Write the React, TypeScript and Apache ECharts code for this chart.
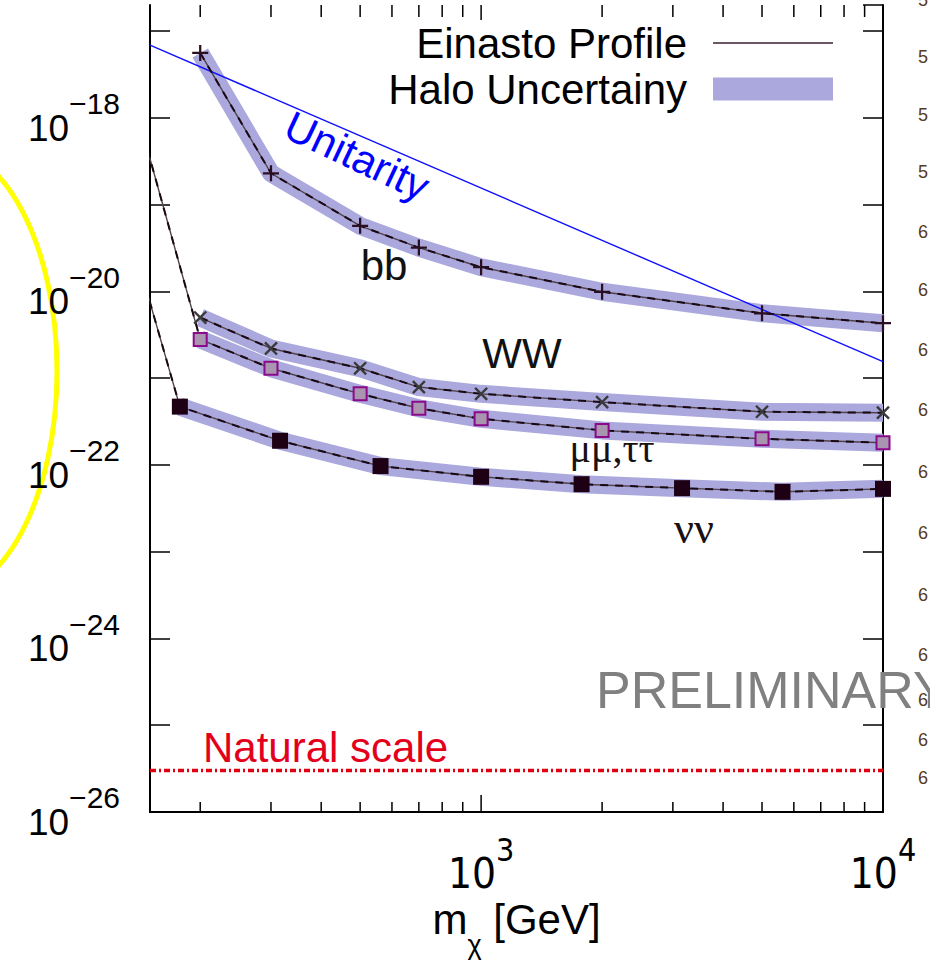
import React, { useEffect, useRef } from 'react';
import * as echarts from 'echarts';

// ---------- data ----------
const X_MIN = 150;
const X_MAX = 10000;
const Y_MIN = 9.9999e-27;
const Y_MAX = 2e-17;

const massBB = [200, 300, 500, 700, 1000, 2000, 5000, 10000];
const sigmaBB = [5.6e-18, 2.3e-19, 5.7e-20, 3.2e-20, 1.9e-20, 9.9e-21, 5.6e-21, 4.3e-21];

const massWW = [200, 300, 500, 700, 1000, 2000, 5000, 10000];
const sigmaWW = [5.0e-21, 2.2e-21, 1.3e-21, 7.9e-22, 6.6e-22, 5.3e-22, 4.1e-22, 4.0e-22];

const massMuTau = [100, 200, 300, 500, 700, 1000, 2000, 5000, 10000];
const sigmaMuTau = [2.9e-16, 2.8e-21, 1.3e-21, 6.6e-22, 4.5e-22, 3.4e-22, 2.5e-22, 2.0e-22, 1.8e-22];

const massNuNu = [100, 178, 316, 562, 1000, 1778, 3162, 5623, 10000];
const sigmaNuNu = [5.2e-18, 4.7e-22, 1.9e-22, 9.7e-23, 7.3e-23, 6.0e-23, 5.4e-23, 4.9e-23, 5.3e-23];

const unitarityMass = [150, 10000];
const unitaritySigma = [6.9e-18, 1.55e-21];

const naturalScaleMass = [150, 10000];
const naturalScaleSigma = [3e-26, 3e-26];

const xMajorTicks = [1000, 10000];
const xMinorTicks = [200, 300, 400, 500, 600, 700, 800, 900, 2000, 3000, 4000, 5000, 6000, 7000, 8000, 9000];

const legendNames = ['Einasto Profile', 'Halo Uncertainy'];

// fragments of the neighbouring slide column, cut by the right edge
const rightDigits = ['5', '5', '5', '5', '6', '6', '6', '6', '6', '6', '6', '6', '6', '6', '6'];

// ---------- styling ----------
const SANS = '"Liberation Sans", Arial, Helvetica, sans-serif';
const SERIF = '"Liberation Serif", "Times New Roman", serif';
const BAND_COLOR = '#aaa8dc';
const PLUS = 'path://M4.3,0H5.7V4.3H10V5.7H5.7V10H4.3V5.7H0V4.3H4.3Z';
const LEGEND_LINE = 'path://M0,0H0.05V0.05H0ZM0,10.7H120V12.3H0ZM0,22.95H0.05V23H0Z';

const pairs = (xs: number[], ys: number[]) => xs.map((x, i) => [x, ys[i]]);
const inRange = (xs: number[], ys: number[]) => pairs(xs, ys).filter((p) => p[0] >= X_MIN);

const channels = [
  { mass: massBB, sigma: sigmaBB, symbol: PLUS, size: 16, rotate: 0, itemStyle: { color: '#2a0f22' } },
  { mass: massWW, sigma: sigmaWW, symbol: PLUS, size: 17, rotate: 45, itemStyle: { color: '#3a3a3a' } },
  { mass: massMuTau, sigma: sigmaMuTau, symbol: 'rect', size: 13, rotate: 0,
    itemStyle: { color: '#a995b0', borderColor: '#8a0a8a', borderWidth: 2 } },
  { mass: massNuNu, sigma: sigmaNuNu, symbol: 'rect', size: 16, rotate: 0, itemStyle: { color: '#1e0014' } },
];

const isPow10 = (v: number, tol: number) => {
  const l = Math.log10(v);
  return Math.abs(l - Math.round(l)) < tol;
};

function tickSeries(values: number[], lenBottom: number, lenTop: number) {
  return {
    type: 'custom',
    data: values.map((v) => [v, Y_MIN]),
    clip: false,
    silent: true,
    z: 10,
    renderItem: (params: any, api: any) => {
      const v = api.value(0);
      const b = api.coord([v, Y_MIN]);
      const t = api.coord([v, Y_MAX]);
      return {
        type: 'group',
        children: [
          { type: 'line', shape: { x1: b[0], y1: b[1], x2: b[0], y2: b[1] - lenBottom }, style: { stroke: '#000', lineWidth: 1.5 } },
          { type: 'line', shape: { x1: t[0], y1: t[1], x2: t[0], y2: t[1] + lenTop }, style: { stroke: '#000', lineWidth: 1.5 } },
        ],
      };
    },
  };
}

function buildOption(): any {
  const series: any[] = [];
  channels.forEach((c) => {
    series.push({
      type: 'line',
      name: 'Halo Uncertainy',
      data: inRange(c.mass, c.sigma),
      symbol: 'none',
      lineStyle: { color: BAND_COLOR, width: 18, cap: 'butt', join: 'round' },
      z: 1,
      silent: true,
    });
  });
  channels.forEach((c) => {
    // solid grey core of the Einasto curve
    series.push({
      type: 'line',
      name: 'Einasto Profile',
      data: pairs(c.mass, c.sigma),
      symbol: 'none',
      lineStyle: { color: '#4e424b', width: 1.4 },
      clip: true,
      z: 3,
      silent: true,
    });
    // dark dashes on top, plus the point markers
    series.push({
      type: 'line',
      name: 'Einasto Profile',
      data: pairs(c.mass, c.sigma),
      symbol: c.symbol,
      symbolSize: c.size,
      symbolRotate: c.rotate,
      showAllSymbol: true,
      itemStyle: c.itemStyle,
      lineStyle: { color: '#1a0812', width: 2, type: [8, 7] },
      clip: true,
      z: 4,
      silent: true,
    });
  });
  series.push({
    type: 'line',
    name: 'Unitarity',
    data: pairs(unitarityMass, unitaritySigma),
    symbol: 'none',
    lineStyle: { color: '#1010ff', width: 1.4 },
    z: 3,
    silent: true,
  });
  series.push({
    type: 'line',
    name: 'Natural scale',
    data: pairs(naturalScaleMass, naturalScaleSigma),
    symbol: 'none',
    lineStyle: { color: '#e00010', width: 3.5, type: [6, 3, 2, 3] },
    z: 3,
    silent: true,
  });
  series.push(tickSeries(xMinorTicks, 10, 12));
  series.push(tickSeries(xMajorTicks, 17, 15));

  const axisLine = { show: true, lineStyle: { color: '#000', width: 2 } };

  const textEl = (text: string, x: number, y: number, size: number, fill: string, family = SANS, align = 'center', rotation = 0) => ({
    type: 'text',
    x,
    y,
    rotation,
    z: 20,
    silent: true,
    style: { text, fontSize: size, fontFamily: family, fill, align, verticalAlign: 'middle' },
  });

  const rightDigitY = [0, 57, 115, 172, 232, 290, 350, 410, 472, 533, 595, 655, 700, 740, 778];

  return {
    animation: false,
    backgroundColor: '#fff',
    grid: { left: 150, right: 47, top: 5, bottom: 152, containLabel: false, outerBoundsMode: 'none' },
    legend: {
      show: true,
      data: [
        { name: legendNames[0], icon: LEGEND_LINE, itemStyle: { color: '#3a2030' } },
        { name: legendNames[1], icon: 'rect', itemStyle: { color: BAND_COLOR } },
      ],
      orient: 'vertical',
      align: 'right',
      right: 97,
      top: 20,
      padding: 0,
      itemGap: 0,
      itemWidth: 120,
      itemHeight: 23,
      selectedMode: false,
      textStyle: { fontSize: 42, fontFamily: SANS, color: '#000', lineHeight: 46, padding: [0, 21, 0, 0] },
    },
    xAxis: [
      {
        type: 'log',
        min: X_MIN,
        max: X_MAX,
        position: 'bottom',
        axisLine,
        axisTick: { show: false },
        minorTick: { show: false },
        splitLine: { show: false },
        axisLabel: {
          margin: 22,
          showMinLabel: false,
          formatter: (v: number) => (isPow10(v, 1e-3) ? `{b|10}{s|${Math.round(Math.log10(v))}}` : ''),
          rich: {
            b: { fontSize: 42, fontFamily: '"Liberation Sans Narrow", "DejaVu Sans Condensed", ' + SANS, color: '#000', lineHeight: 60, verticalAlign: 'bottom' },
            s: { fontSize: 32, fontFamily: '"Liberation Sans Narrow", "DejaVu Sans Condensed", ' + SANS, color: '#000', lineHeight: 14, verticalAlign: 'top' },
          },
        },
        name: '{m|m}{c|χ}{g| [GeV]}',
        nameLocation: 'middle',
        nameGap: 74,
        nameTextStyle: {
          rich: {
            m: { fontSize: 42, fontFamily: SANS, color: '#000', lineHeight: 60, verticalAlign: 'top' },
            g: { fontSize: 42, fontFamily: SANS, color: '#000', lineHeight: 60, verticalAlign: 'top' },
            c: { fontSize: 27, fontFamily: SANS, color: '#000', lineHeight: 30, verticalAlign: 'bottom' },
          },
        },
      },
      {
        type: 'log',
        min: X_MIN,
        max: X_MAX,
        position: 'top',
        axisLine,
        axisTick: { show: false },
        minorTick: { show: false },
        axisLabel: { show: false },
        splitLine: { show: false },
      },
    ],
    yAxis: [
      {
        type: 'log',
        min: Y_MIN,
        max: Y_MAX,
        position: 'left',
        axisLine,
        axisTick: { show: true, inside: true, length: 20, lineStyle: { color: '#000', width: 1.5 } },
        minorTick: { show: false },
        splitLine: { show: false },
        axisLabel: {
          margin: 30,
          showMinLabel: true,
          showMaxLabel: false,
          formatter: (v: number) => {
            if (!isPow10(v, 1e-7)) return '';
            const e = Math.round(Math.log10(v));
            if (Math.abs(e) % 2 === 1) return '';
            return `{b|10}{s|−${-e}}`;
          },
          rich: {
            b: { fontSize: 37, fontFamily: SANS, color: '#000', lineHeight: 58, verticalAlign: 'bottom' },
            s: { fontSize: 30, fontFamily: SANS, color: '#000', lineHeight: 16, verticalAlign: 'top' },
          },
        },
      },
      {
        type: 'log',
        min: Y_MIN,
        max: Y_MAX,
        position: 'right',
        axisLine,
        axisTick: { show: true, inside: true, length: 20, lineStyle: { color: '#000', width: 1.5 } },
        minorTick: { show: false },
        axisLabel: { show: false },
        splitLine: { show: false },
      },
    ],
    series,
    graphic: [
      {
        type: 'ellipse',
        shape: { cx: -60, cy: 371, rx: 117, ry: 225 },
        style: { fill: 'none', stroke: '#ffff00', lineWidth: 5 },
        silent: true,
      },
      textEl('Unitarity', 357, 156, 42, '#0000ff', SANS, 'center', -0.44),
      textEl('bb', 384, 265, 42, '#111'),
      textEl('WW', 522, 353, 42, '#111'),
      textEl('μμ,ττ', 612, 448, 40, '#1a1010', SERIF),
      textEl('νν', 694, 528, 44, '#1a1010', SERIF),
      textEl('Natural scale', 203, 747, 42, '#e3001b', SANS, 'left'),
      textEl('PRELIMINARY', 596, 690, 52, '#808080', SANS, 'left'),
      ...rightDigits.map((d, i) => textEl(d, 918, rightDigitY[i], 18, '#5a3a20', SANS, 'left')),
    ],
  };
}

export default function App() {
  const ref = useRef<HTMLDivElement>(null);
  useEffect(() => {
    if (!ref.current) return;
    const chart = echarts.init(ref.current, null, { renderer: 'svg' });
    chart.setOption(buildOption());
    return () => chart.dispose();
  }, []);
  return (
    <div
      ref={ref}
      style={{ position: 'fixed', left: 0, top: 0, width: 930, height: 964, background: '#fff' }}
    />
  );
}
